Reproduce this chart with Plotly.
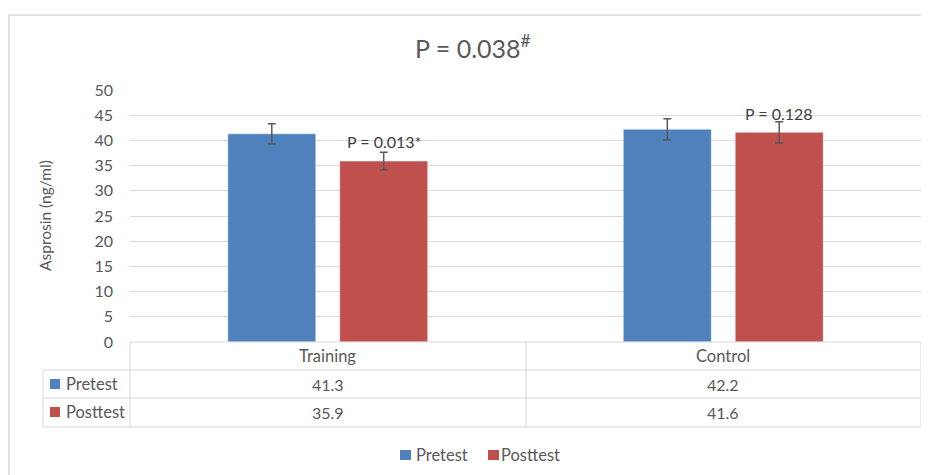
import plotly.graph_objects as go

categories = ["Training", "Control"]
series_names = ["Pretest", "Posttest"]
pretest = [41.3, 42.2]
posttest = [35.9, 41.6]
pretest_err = [2.0, 2.1]
posttest_err = [1.75, 2.1]
y_ticks = [0, 5, 10, 15, 20, 25, 30, 35, 40, 45, 50]
title_text = "P = 0.038<sup>#</sup>"
y_title = "Asprosin (ng/ml)"
p_labels = ["P = 0.013*", "P = 0.128"]
p_label_y = [39.7, 45.4]

BLUE = "#4F81BD"
RED = "#C0504D"
TXT = "#595959"
GRID = "#D9D9D9"
FONT = "Lato, 'Open Sans', sans-serif"

fig = go.Figure()
for name, vals, errs, col in [(series_names[0], pretest, pretest_err, BLUE),
                              (series_names[1], posttest, posttest_err, RED)]:
    fig.add_trace(go.Bar(
        x=categories, y=vals, name=name,
        marker=dict(color=col, line=dict(color="rgba(255,255,255,0.45)", width=1)),
        error_y=dict(type="data", array=errs, visible=True, color=TXT, thickness=1.5, width=4),
    ))

# page body has an 8px margin, figure drawn at offset (8,8); coords below are in
# reference-image pixels and converted to paper fractions of the plot area
H = 252.0
W = 791.0
def py(ypx):
    return (342 - ypx) / H
def px(xpx):
    return (xpx - 130) / W

shapes = []
line = dict(color=GRID, width=1)
shapes.append(dict(type="rect", xref="paper", yref="paper", x0=px(9), x1=px(945), y0=py(15), y1=py(500),
                   line=dict(color=GRID, width=1.5), fillcolor="rgba(0,0,0,0)", layer="below"))
shapes.append(dict(type="line", xref="paper", yref="paper", x0=px(130), x1=px(921), y0=py(342), y1=py(342), line=line))
for yy in [370, 398, 427]:
    shapes.append(dict(type="line", xref="paper", yref="paper", x0=px(43), x1=px(921), y0=py(yy), y1=py(yy), line=line))
shapes.append(dict(type="line", xref="paper", yref="paper", x0=px(43), x1=px(43), y0=py(370), y1=py(427), line=line))
for xx in [130, 526, 921]:
    shapes.append(dict(type="line", xref="paper", yref="paper", x0=px(xx), x1=px(xx), y0=py(342), y1=py(427), line=line))
for yc, col in [(384, BLUE), (412, RED)]:
    shapes.append(dict(type="rect", xref="paper", yref="paper", x0=px(50), x1=px(60), y0=py(yc - 5), y1=py(yc + 5),
                       line=dict(width=0), fillcolor=col))
for x0, col in [(400, BLUE), (488, RED)]:
    shapes.append(dict(type="rect", xref="paper", yref="paper", x0=px(x0), x1=px(x0 + 11), y0=py(450), y1=py(460),
                       line=dict(width=0), fillcolor=col))

ann = []
ann.append(dict(text=title_text, xref="paper", yref="paper", x=px(473), y=py(47), showarrow=False,
                font=dict(size=25, color=TXT, family=FONT), xanchor="center", yanchor="middle"))
ann.append(dict(text=y_title, xref="paper", yref="paper", x=px(45), y=py(216), showarrow=False, textangle=-90,
                font=dict(size=15.5, color=TXT, family=FONT), xanchor="center", yanchor="middle"))
for i, (lab, yv) in enumerate(zip(p_labels, p_label_y)):
    ann.append(dict(text=lab, xref="x", yref="y", x=i + 0.1416, y=yv, showarrow=False,
                    font=dict(size=16, color="#404040", family=FONT), xanchor="center", yanchor="middle"))
for i, c in enumerate(categories):
    ann.append(dict(text=c, xref="x", yref="paper", x=i, y=py(356), showarrow=False,
                    font=dict(size=16.5, color=TXT, family=FONT), xanchor="center", yanchor="middle"))
    for vals, yy in [(pretest, 384), (posttest, 412)]:
        ann.append(dict(text=f"{vals[i]:.1f}", xref="x", yref="paper", x=i, y=py(yy), showarrow=False,
                        font=dict(size=16, color=TXT, family=FONT), xanchor="center", yanchor="middle"))
for name, yy in zip(series_names, [384, 412]):
    ann.append(dict(text=name, xref="paper", yref="paper", x=px(64), y=py(yy), showarrow=False,
                    font=dict(size=16.5, color=TXT, family=FONT), xanchor="left", yanchor="middle"))
for name, x0 in zip(series_names, [414, 499]):
    ann.append(dict(text=name, xref="paper", yref="paper", x=px(x0), y=py(455), showarrow=False,
                    font=dict(size=16.5, color=TXT, family=FONT), xanchor="left", yanchor="middle"))

fig.update_layout(
    width=921, height=467,
    margin=dict(l=122, r=8, t=82, b=133, pad=0),
    paper_bgcolor="white", plot_bgcolor="white",
    barmode="group", bargap=0.434, bargroupgap=0.214,
    font=dict(family=FONT, color=TXT),
    shapes=shapes, annotations=ann,
    showlegend=False,
    xaxis=dict(showticklabels=False, showgrid=False, zeroline=False, showline=False, ticks=""),
    yaxis=dict(range=[0, 50], tickvals=y_ticks, showgrid=True, gridcolor=GRID, gridwidth=1,
               zeroline=False, showline=False, ticks="", ticklabelstandoff=16,
               tickfont=dict(size=16, color=TXT, family=FONT)),
)

fig.write_html("out.html")
